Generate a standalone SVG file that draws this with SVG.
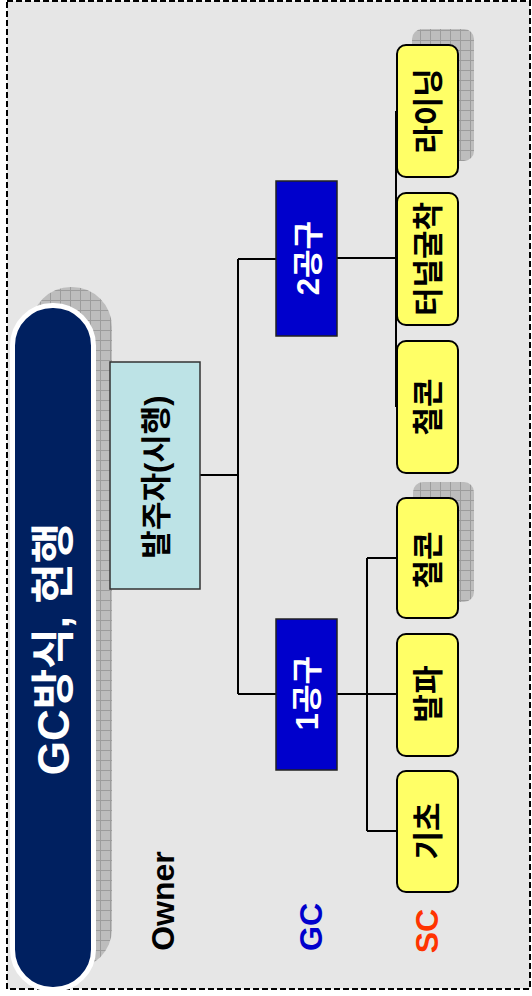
<svg xmlns="http://www.w3.org/2000/svg" width="532" height="996" viewBox="0 0 532 996">
  <defs>
    <pattern id="hatch" width="10" height="10" patternUnits="userSpaceOnUse">
      <rect width="10" height="10" fill="#bdbdbd"/>
      <path d="M0 0.5H10M0.5 0V10" stroke="#9c9c9c" stroke-width="1"/>
    </pattern>
  </defs>
  <style>
    text { font-family: "Liberation Sans", "Noto Sans CJK KR", sans-serif; font-weight: bold; text-anchor: middle; dominant-baseline: central; }
    .shadow { fill: url(#hatch); }
    .sc { fill: #ffff66; stroke: #000; stroke-width: 2; }
    .gc { fill: #0000cc; stroke: #222; stroke-width: 1.5; }
    .owner { fill: #bde3e6; stroke: #333; stroke-width: 1.5; }
    .conn { stroke: #000; stroke-width: 2; fill: none; }
    .lbl { font-size: 31px; fill: #000; }
    .wlbl { font-size: 31px; fill: #fff; }
  </style>
  <rect x="0" y="0" width="532" height="996" fill="#fff"/>
  <rect x="7" y="1" width="523" height="988" fill="#e6e6e6" stroke="#000" stroke-width="2" stroke-dasharray="6 3"/>

  <g id="title">
    <rect class="shadow" x="31" y="287" width="81" height="682" rx="40" ry="40"/>
    <rect x="12.5" y="305.5" width="81" height="684" rx="40" ry="40" fill="#002060" stroke="#fff" stroke-width="5"/>
    <text transform="translate(53,649) rotate(-90)" style="font-size:44px;fill:#fff">GC방식, 현행</text>
  </g>

  <g id="connectors" class="conn">
    <path d="M200 475H238M238 259V694M238 259H276M238 694H276"/>
    <path d="M337 258H396M396 111V407"/>
    <path d="M337 694H396M367 558V831M367 558H397M367 831H397"/>
  </g>

  <g id="owner">
    <rect class="owner" x="110" y="362" width="90" height="227"/>
    <text class="lbl" transform="translate(156,477) rotate(-90)">발주자(시행)</text>
  </g>

  <g id="gc2">
    <rect class="gc" x="276" y="181" width="61" height="155"/>
    <text class="wlbl" transform="translate(308,258) rotate(-90)">2공구</text>
  </g>
  <g id="gc1">
    <rect class="gc" x="276" y="619" width="61" height="151"/>
    <text class="wlbl" transform="translate(307,693) rotate(-90)">1공구</text>
  </g>

  <g id="sc-lining">
    <rect class="shadow" x="412" y="29" width="62" height="132" rx="10"/>
    <rect class="sc" x="397" y="45" width="61" height="132" rx="9"/>
    <text class="lbl" transform="translate(428,111) rotate(-90)">라이닝</text>
  </g>
  <g id="sc-tunnel">
    <rect class="sc" x="397" y="193" width="61" height="132" rx="9"/>
    <text class="lbl" transform="translate(428,259) rotate(-90)">터널굴착</text>
  </g>
  <g id="sc-concrete2">
    <rect class="sc" x="397" y="341" width="61" height="132" rx="9"/>
    <text class="lbl" transform="translate(428,407) rotate(-90)">철콘</text>
  </g>
  <g id="sc-concrete1">
    <rect class="shadow" x="413" y="482" width="61" height="120" rx="10"/>
    <rect class="sc" x="397" y="498" width="61" height="120" rx="9"/>
    <text class="lbl" transform="translate(428,560) rotate(-90)">철콘</text>
  </g>
  <g id="sc-blast">
    <rect class="sc" x="397" y="634" width="61" height="122" rx="9"/>
    <text class="lbl" transform="translate(428,694) rotate(-90)">발파</text>
  </g>
  <g id="sc-foundation">
    <rect class="sc" x="397" y="771" width="61" height="121" rx="9"/>
    <text class="lbl" transform="translate(428,831) rotate(-90)">기초</text>
  </g>

  <g id="legend">
    <text transform="translate(163,901) rotate(-90)" style="font-size:32px;fill:#000">Owner</text>
    <text transform="translate(311,927) rotate(-90)" style="font-size:32px;fill:#0000cc">GC</text>
    <text transform="translate(427,931) rotate(-90)" style="font-size:32px;fill:#ff3300">SC</text>
  </g>
</svg>
